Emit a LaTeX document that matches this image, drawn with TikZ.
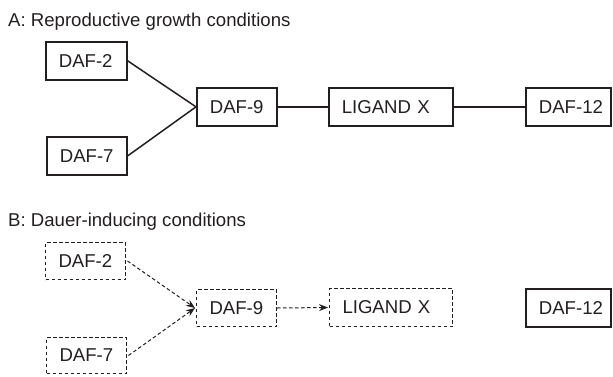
\documentclass[tikz,border=0pt]{standalone}
\usepackage{fontspec}
\setmainfont{Liberation Sans}
\usetikzlibrary{arrows.meta}
\definecolor{ink}{HTML}{231F20}
\begin{document}
\begin{tikzpicture}[x=1pt,y=-1pt,
  every node/.style={font=\fontsize{18.6}{21}\selectfont, text=ink},
  gbox/.style={draw=ink, line width=1.7pt, anchor=north west, inner xsep=13pt, inner ysep=0pt, align=left},
  dbox/.style={draw=ink, line width=1pt, dash pattern=on 3.5pt off 2.5pt, anchor=north west, inner xsep=13pt, inner ysep=0pt, align=left},
  link/.style={draw=ink, line width=1.5pt},
  dlink/.style={draw=ink, line width=1pt, dash pattern=on 3.5pt off 2.5pt, -{Stealth[length=9pt,width=7pt]}},
  title/.style={anchor=base west, inner sep=0pt}]
\useasboundingbox (0,0) rectangle (613,376);

\node[title] (ta) at (8,26) {A: Reproductive growth conditions};
\node[gbox, text width=55pt, minimum height=38pt] (a2) at (45,41) {\mbox{DAF-2}};
\node[gbox, text width=54pt, minimum height=38pt] (a7) at (46,136) {\mbox{DAF-7}};
\node[gbox, text width=54pt, minimum height=38pt] (a9) at (196,87) {\mbox{DAF-9}};
\node[gbox, text width=98pt, minimum height=38pt] (ax) at (328,87) {\mbox{LIGAND X}};
\node[gbox, text width=59pt, minimum height=38pt] (a12) at (525,87) {\mbox{DAF-12}};
\draw[link] (a2.east) -- (a9.west);
\draw[link] (a7.east) -- (a9.west);
\draw[link] (a9.east) -- (ax.west);
\draw[link] (ax.east) -- (a12.west);

\node[title] (tb) at (8,226) {B: Dauer-inducing conditions};
\node[dbox, text width=54pt, minimum height=37pt] (b2) at (45,242) {\mbox{DAF-2}};
\node[dbox, text width=54pt, minimum height=36pt] (b7) at (46,337) {\mbox{DAF-7}};
\node[dbox, text width=54pt, minimum height=37pt] (b9) at (196,289) {\mbox{DAF-9}};
\node[dbox, text width=97pt, minimum height=38pt] (bx) at (329,288) {\mbox{LIGAND X}};
\node[gbox, text width=59pt, minimum height=38pt] (b12) at (525,288) {\mbox{DAF-12}};
\draw[dlink] ([xshift=1.5pt]b2.east) -- ([xshift=-1pt]b9.west);
\draw[dlink] ([xshift=1.5pt]b7.east) -- ([xshift=-1pt]b9.west);
\draw[dlink] (b9.east) -- ([xshift=-1pt]bx.west);
\end{tikzpicture}
\end{document}
